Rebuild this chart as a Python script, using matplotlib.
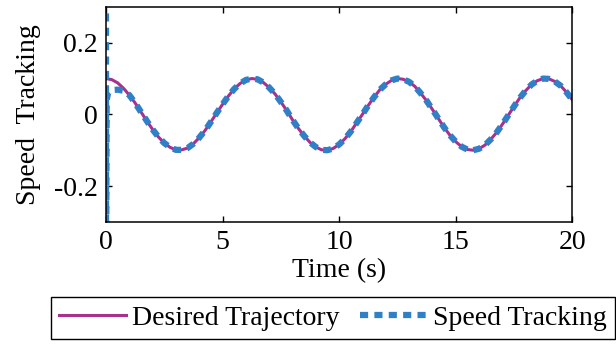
import numpy as np
import matplotlib.pyplot as plt

plt.rcParams['font.family'] = ['Liberation Serif', 'DejaVu Serif']
plt.rcParams['axes.unicode_minus'] = False

# desired trajectory, every 0.25 s
t_des = [0.25 * i for i in range(81)]
y_des = [0.100, 0.097, 0.088, 0.073, 0.054, 0.032, 0.007, -0.018, -0.042, -0.063,
         -0.080, -0.092, -0.099, -0.099, -0.094, -0.082, -0.065, -0.045, -0.021, 0.004,
         0.028, 0.051, 0.071, 0.086, 0.096, 0.100, 0.098, 0.089, 0.075, 0.057,
         0.035, 0.011, -0.015, -0.039, -0.060, -0.078, -0.091, -0.099, -0.100, -0.095,
         -0.084, -0.068, -0.048, -0.024, 0.000, 0.025, 0.048, 0.069, 0.084, 0.095,
         0.100, 0.098, 0.091, 0.078, 0.059, 0.038, 0.014, -0.011, -0.036, -0.058,
         -0.076, -0.090, -0.098, -0.100, -0.096, -0.086, -0.070, -0.051, -0.028, -0.003,
         0.022, 0.046, 0.066, 0.083, 0.094, 0.100, 0.099, 0.092, 0.080, 0.062,
         0.041]

# speed tracking: start-up transient, then it sits on the desired curve
t_start = [0.0, 0.004, 0.03, 0.1, 0.25, 0.5, 0.75]
y_start = [0.5, -0.5, 0.04, 0.062, 0.068, 0.069, 0.066]
t_spd = t_start + t_des[4:]
y_spd = y_start + y_des[4:]

fig = plt.figure(figsize=(6.16, 3.44), dpi=100)
ax = fig.add_axes([0.172, 0.355, 0.757, 0.625])

ax.plot(t_des, y_des, color='#a8308f', lw=2.2, label='Desired Trajectory')
ax.plot(t_spd, y_spd, color='#2f80c6', lw=4.5, dashes=(1.3, 1.0),
        dash_capstyle='butt', label='Speed Tracking')

ax.set_xlim(0, 20)
ax.set_ylim(-0.3, 0.3)
ax.set_xticks([0, 5, 10, 15, 20])
ax.set_yticks([-0.2, 0, 0.2])
ax.set_yticklabels(['-0.2', '0', '0.2'])
ax.tick_params(direction='in', length=4, width=1, top=True, right=True,
               labelsize=20, pad=6)
for s in ax.spines.values():
    s.set_linewidth(1.1)

ax.set_xlabel('Time (s)', fontsize=20, labelpad=2)
ax.set_ylabel('Speed  Tracking', fontsize=20, labelpad=9)

leg = fig.legend(loc='upper left', bbox_to_anchor=(0.0828, 0.1366), ncol=2,
                 fontsize=20, frameon=True, fancybox=False, edgecolor='black',
                 framealpha=1, handlelength=2.4, handletextpad=0.22,
                 columnspacing=0.75, borderpad=0.3, borderaxespad=0)
leg.get_frame().set_linewidth(1.0)

fig.savefig('out.png', dpi=100)
